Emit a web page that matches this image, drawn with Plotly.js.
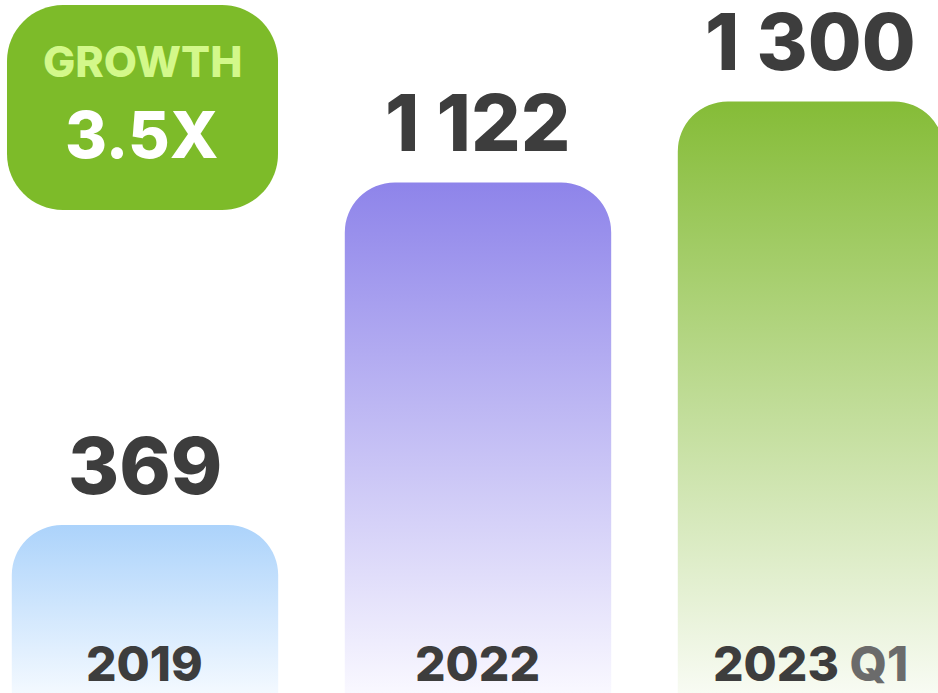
<!DOCTYPE html>
<html>
<head>
<meta charset="utf-8">
<script src="https://cdn.plot.ly/plotly-3.0.1.min.js"></script>
<style>
html,body{margin:0;padding:0;background:#fff;}
#chart{width:938px;height:693px;}
</style>
</head>
<body>
<div id="chart"></div>
<script>
// ---- data ----
const categories = ["2019", "2022", "2023"];
const categoryLabels = ["2019", "2022", "2023 <span style=\"color:#6b6b6b\">Q1</span>"];
const values = [369, 1122, 1300];
const growthTitle = "GROWTH";
const growthValue = "3.5X";

// gradient stops (top, bottom) per bar
const gradTop = ["#acd3fb", "#8e84ea", "#85bc37"];
const gradBottom = ["#f3f9ff", "#f9f8ff", "#f8fbf3"];

function fmt(v) {
  return String(v).replace(/\B(?=(\d{3})+(?!\d))/g, " ");
}

const FONT = "Inter, 'Open Sans', sans-serif";

const trace = {
  type: "bar",
  x: categories,
  y: values,
  width: 0.8,
  marker: { color: gradTop, cornerradius: 50, line: { width: 0 } },
  hoverinfo: "skip"
};

const annotations = [];
values.forEach((v, i) => {
  annotations.push({
    x: i, y: v, xref: "x", yref: "y",
    text: fmt(v), showarrow: false, xanchor: "center", yanchor: "bottom", yshift: 11,
    borderpad: 0,
    font: { family: FONT, size: 78, color: "#3d3d3d", weight: 800 }
  });
  annotations.push({
    x: i, y: 0.043, xref: "x", yref: "paper",
    text: categoryLabels[i], showarrow: false, xanchor: "center", yanchor: "middle",
    font: { family: FONT, size: 48, color: "#3d3d3d", weight: 800 }
  });
});
annotations.push({
  x: 142 / 938, y: 1 - 61 / 693, xref: "paper", yref: "paper",
  text: growthTitle, showarrow: false, xanchor: "center", yanchor: "middle",
  font: { family: FONT, size: 43, color: "#d3f88a", weight: 800 }
});
annotations.push({
  x: 142 / 938, y: 1 - 134 / 693, xref: "paper", yref: "paper",
  text: growthValue, showarrow: false, xanchor: "center", yanchor: "middle",
  font: { family: FONT, size: 64, color: "#ffffff", weight: 800 }
});

// rounded badge path in paper coords
function roundedRect(x0, y0, x1, y1, r) {
  const W = 938, H = 693, k = 0.5523;
  const px = v => (v / W).toFixed(5);
  const py = v => (1 - v / H).toFixed(5);
  const P = (x, y) => px(x) + "," + py(y);
  return "M" + P(x0 + r, y0) +
    " L" + P(x1 - r, y0) +
    " C" + P(x1 - r + r * k, y0) + " " + P(x1, y0 + r - r * k) + " " + P(x1, y0 + r) +
    " L" + P(x1, y1 - r) +
    " C" + P(x1, y1 - r + r * k) + " " + P(x1 - r + r * k, y1) + " " + P(x1 - r, y1) +
    " L" + P(x0 + r, y1) +
    " C" + P(x0 + r - r * k, y1) + " " + P(x0, y1 - r + r * k) + " " + P(x0, y1 - r) +
    " L" + P(x0, y0 + r) +
    " C" + P(x0, y0 + r - r * k) + " " + P(x0 + r - r * k, y0) + " " + P(x0 + r, y0) + " Z";
}

const layout = {
  width: 938, height: 693,
  margin: { l: 0, r: 0, t: 0, b: 0 },
  paper_bgcolor: "#ffffff", plot_bgcolor: "#ffffff",
  showlegend: false,
  xaxis: { type: "category", range: [-0.4354, 2.3814], visible: false, fixedrange: true },
  yaxis: { range: [0, 1523], visible: false, fixedrange: true },
  shapes: [{
    type: "path", xref: "paper", yref: "paper",
    path: roundedRect(7, 5, 278, 210, 56),
    fillcolor: "#7dbb29", line: { width: 0 }, layer: "below"
  }],
  annotations: annotations
};

Plotly.newPlot("chart", [trace], layout, { displayModeBar: false, staticPlot: true }).then(gd => {
  const svg = gd.querySelector(".main-svg");
  let defs = svg.querySelector("defs");
  const ns = "http://www.w3.org/2000/svg";
  gradTop.forEach((c, i) => {
    const g = document.createElementNS(ns, "linearGradient");
    g.setAttribute("id", "bargrad" + i);
    g.setAttribute("x1", "0"); g.setAttribute("y1", "0");
    g.setAttribute("x2", "0"); g.setAttribute("y2", "1");
    const s1 = document.createElementNS(ns, "stop");
    s1.setAttribute("offset", "0"); s1.setAttribute("stop-color", c);
    const s2 = document.createElementNS(ns, "stop");
    s2.setAttribute("offset", "1"); s2.setAttribute("stop-color", gradBottom[i]);
    g.appendChild(s1); g.appendChild(s2);
    defs.appendChild(g);
  });
  gd.querySelectorAll(".trace.bars .point path").forEach((p, i) => {
    p.style.fill = "url(#bargrad" + i + ")";
  });
});
</script>
</body>
</html>
